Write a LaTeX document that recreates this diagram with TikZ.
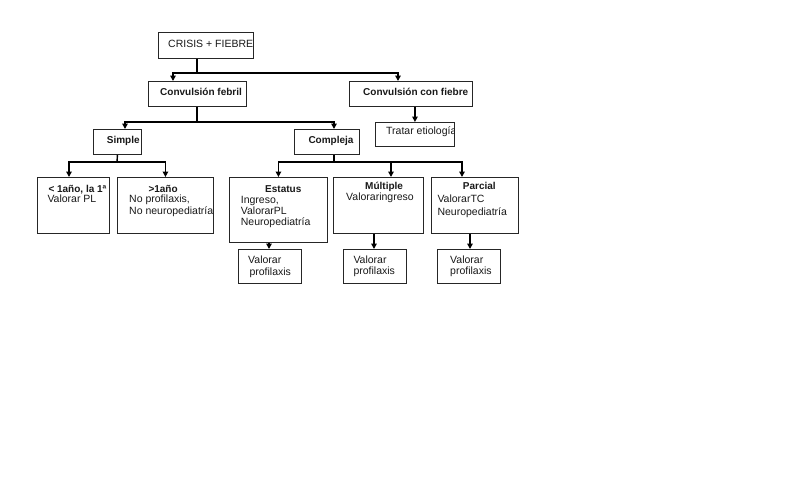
\documentclass[tikz,border=0pt]{standalone}
\usepackage{fontspec}
\setmainfont{Liberation Sans}
\usetikzlibrary{arrows.meta}
\begin{document}
\begin{tikzpicture}[x=1pt,y=-1pt,
  box/.style={draw=black!85, line width=0.9pt, inner sep=0pt, anchor=north west},
  conn/.style={line width=1.4pt, black},
  arr/.style={conn, -{Triangle[width=5.5pt,length=5.5pt]}},
  txt/.style={inner sep=0pt, anchor=base west, font=\fontsize{10.5}{12}\selectfont, text=black!90},
  ttl/.style={inner sep=0pt, anchor=base west, font=\fontsize{10}{12}\selectfont\bfseries, text=black!90}]
\useasboundingbox (0,0) rectangle (800,499);
\fill[white] (0,0) rectangle (800,499);
% boxes
\node[box, minimum width=95pt, minimum height=26pt] (top) at (158,32) {};
\node[box, minimum width=98pt, minimum height=25pt] (cf) at (148,81) {};
\node[box, minimum width=123pt, minimum height=25pt] (cc) at (349,81) {};
\node[box, minimum width=48pt, minimum height=25pt] (s) at (93,129) {};
\node[box, minimum width=65pt, minimum height=25pt] (c) at (294,129) {};
\node[box, minimum width=79pt, minimum height=24pt] (te) at (375,122) {};
\node[box, minimum width=72pt, minimum height=56pt] (a) at (37,177) {};
\node[box, minimum width=96pt, minimum height=56pt] (b) at (117,177) {};
\node[box, minimum width=98pt, minimum height=65pt] (e) at (229,177) {};
\node[box, minimum width=90pt, minimum height=56pt] (m) at (333,177) {};
\node[box, minimum width=87pt, minimum height=56pt] (p) at (431,177) {};
\node[box, minimum width=63pt, minimum height=34pt] (ve) at (238,249) {};
\node[box, minimum width=63pt, minimum height=34pt] (vm) at (343,249) {};
\node[box, minimum width=63pt, minimum height=34pt] (vp) at (437,249) {};
% texts
\node[txt] (t1) at (168,47) {CRISIS + FIEBRE};
\node[ttl] (t2) at (160,95.5) {Convulsión febril};
\node[ttl] (t3) at (363,95.5) {Convulsión con fiebre};
\node[ttl] (t4) at (106.7,143) {Simple};
\node[ttl] (t5) at (308.3,143.5) {Compleja};
\begin{scope}
\clip (te.north west) rectangle (te.south east);
\node[txt] (t6) at (386,134.5) {Tratar etiología};
\end{scope}
\begin{scope}
\clip (a.north west) rectangle (a.south east);
\node[ttl] (t7) at (48.3,192) {< 1año, la 1ª};
\node[txt] (t8) at (47.3,202) {Valorar PL};
\end{scope}
\begin{scope}
\clip (b.north west) rectangle (b.south east);
\node[ttl] (t9) at (148.3,192) {>1año};
\node[txt] (t10) at (129,202.5) {No profilaxis,};
\node[txt] (t11) at (129,214) {No neuropediatría};
\end{scope}
\node[ttl] (t12) at (265,192) {Estatus};
\node[txt] (t13) at (240.7,203) {Ingreso,};
\node[txt] (t14) at (240.7,214.3) {ValorarPL};
\node[txt] (t15) at (240.7,225.8) {Neuropediatría};
\node[ttl] (t16) at (365,189.5) {Múltiple};
\node[txt] (t17) at (346,200) {Valoraringreso};
\node[ttl] (t18) at (462.7,189.5) {Parcial};
\node[txt] (t19) at (437.3,202.5) {ValorarTC};
\node[txt] (t20) at (437.3,215) {Neuropediatría};
\node[txt] (t21) at (248,263) {Valorar};
\node[txt] (t22) at (249.3,275) {profilaxis};
\node[txt] (t23) at (353.3,263) {Valorar};
\node[txt] (t24) at (353.3,274.5) {profilaxis};
\node[txt] (t25) at (450,263) {Valorar};
\node[txt] (t26) at (450,274.5) {profilaxis};
% connectors
\coordinate (j1) at (197,73);
\draw[conn] (top.south -| j1) -- (j1);
\draw[arr] (j1) -| ([xshift=25pt]cf.north west);
\draw[arr] (j1) -| ([xshift=49pt]cc.north west);
\coordinate (j2) at (197,122);
\draw[conn] (cf.south -| j2) -- (j2);
\draw[arr] (j2) -| ([xshift=32pt]s.north west);
\draw[arr] (j2) -| ([xshift=40pt]c.north west);
\draw[arr] (te.north |- cc.south) -- (te.north);
\coordinate (j3) at (117,162);
\draw[conn] (s.south) -- (j3);
\draw[arr] (j3) -| ([xshift=32pt]a.north west);
\draw[arr] (j3) -| (b.north);
\coordinate (j4) at (334,162);
\draw[conn] ([xshift=40pt]c.south west) -- (j4);
\draw[arr] (j4) -| (e.north);
\draw[arr] (j4) -| ([xshift=58pt]m.north west);
\draw[arr] (j4) -| ([xshift=31pt]p.north west);
\draw[arr] ([xshift=40pt]e.south west) -- ([xshift=31pt]ve.north west);
\draw[arr] ([xshift=41pt]m.south west) -- ([xshift=31pt]vm.north west);
\draw[arr] ([xshift=39pt]p.south west) -- ([xshift=33pt]vp.north west);
\end{tikzpicture}
\end{document}
